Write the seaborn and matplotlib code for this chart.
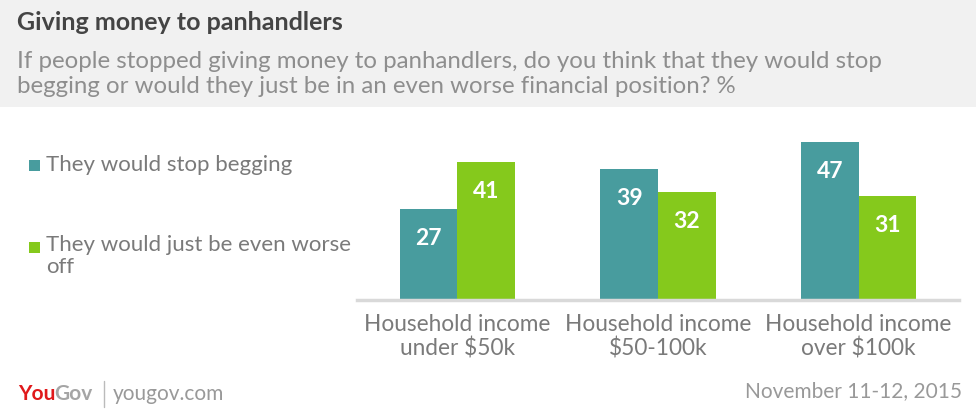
import numpy as np
import pandas as pd
import matplotlib
matplotlib.use("Agg")
import matplotlib.pyplot as plt
from matplotlib.patches import Rectangle
from matplotlib.lines import Line2D
import seaborn as sns

# data
categories = ["Household income\nunder $50k", "Household income\n$50-100k", "Household income\nover $100k"]
series_names = ["They would stop begging", "They would just be even worse off"]
stop_begging = [27, 39, 47]
worse_off = [41, 32, 31]

title = "Giving money to panhandlers"
subtitle = ("If people stopped giving money to panhandlers, do you think that they would stop\n"
            "begging or would they just be in an even worse financial position? %")
date_text = "November 11-12, 2015"

teal = "#489C9E"
green = "#85C91C"
text_gray = "#7a7a7a"

df = pd.DataFrame({
    "category": categories * 2,
    "answer": [series_names[0]] * 3 + [series_names[1]] * 3,
    "value": stop_begging + worse_off,
})

sns.set_theme(style="white")
plt.rcParams['font.family'] = ['Lato', 'DejaVu Sans']

W, H = 976, 412
fig = plt.figure(figsize=(W / 100, H / 100), dpi=100)

def fx(px):
    return px / W

def fy(py):
    return 1 - py / H

# header band
fig.patches.append(Rectangle((0, fy(107)), 1, 107 / H, transform=fig.transFigure,
                             facecolor="#F1F1F1", edgecolor="none", zorder=0))
fig.text(fx(17), fy(22), title, fontsize=18, fontweight="bold", color="#444444", va="center")
fig.text(fx(17), fy(74), subtitle, fontsize=17.3, fontweight="normal", color="#8e8e8e",
         va="center", linespacing=1.2)

# bars
ax = fig.add_axes([fx(357), fy(300), fx(959) - fx(357), 180 / H])
sns.barplot(data=df, x="category", y="value", hue="answer", order=categories,
            hue_order=series_names, palette=[teal, green], width=0.575,
            saturation=1, linewidth=0, ax=ax, legend=False)
ax.set_xlim(-0.5, 2.5)
ax.set_ylim(0, 180 / 3.36)
ax.set_xlabel("")
ax.set_ylabel("")
ax.set_yticks([])
for s in ["top", "right", "left"]:
    ax.spines[s].set_visible(False)
ax.spines["bottom"].set_color("#D9D9D9")
ax.spines["bottom"].set_linewidth(2.5)
ax.tick_params(axis="x", length=0, pad=10)
for lbl in ax.get_xticklabels():
    lbl.set_fontsize(16.3)
    lbl.set_fontweight("normal")
    lbl.set_color(text_gray)
    lbl.set_linespacing(1.15)

for cont in ax.containers:
    for bar in cont:
        h = bar.get_height()
        ax.annotate(f"{h:.0f}", (bar.get_x() + bar.get_width() / 2, h),
                    xytext=(0, -21), textcoords="offset points",
                    ha="center", va="center", color="white",
                    fontsize=16.5, fontweight="bold")

# legend
fig.patches.append(Rectangle((fx(29), fy(171)), 11 / W, 11 / H, transform=fig.transFigure,
                             facecolor=teal, edgecolor="none"))
fig.text(fx(46), fy(165), series_names[0], fontsize=16, color=text_gray, va="center")
fig.patches.append(Rectangle((fx(29), fy(253)), 11 / W, 11 / H, transform=fig.transFigure,
                             facecolor=green, edgecolor="none"))
fig.text(fx(46), fy(235), "They would just be even worse\noff", fontsize=16, color=text_gray,
         va="top", linespacing=1.15)

# footer
fig.text(fx(18), fy(394), "You", fontsize=15, fontweight="bold", color="#E0191B", va="center")
fig.text(fx(54), fy(394), "Gov", fontsize=15, fontweight="bold", color="#A5A5A5", va="center")
fig.add_artist(Line2D([fx(104), fx(104)], [fy(381), fy(407)], transform=fig.transFigure,
                      color="#BBBBBB", lw=1))
fig.text(fx(113), fy(394), "yougov.com", fontsize=15, color="#999999", va="center")
fig.text(fx(962), fy(391), date_text, fontsize=15, color="#999999",
         va="center", ha="right")

fig.savefig("out.png", dpi=100)
